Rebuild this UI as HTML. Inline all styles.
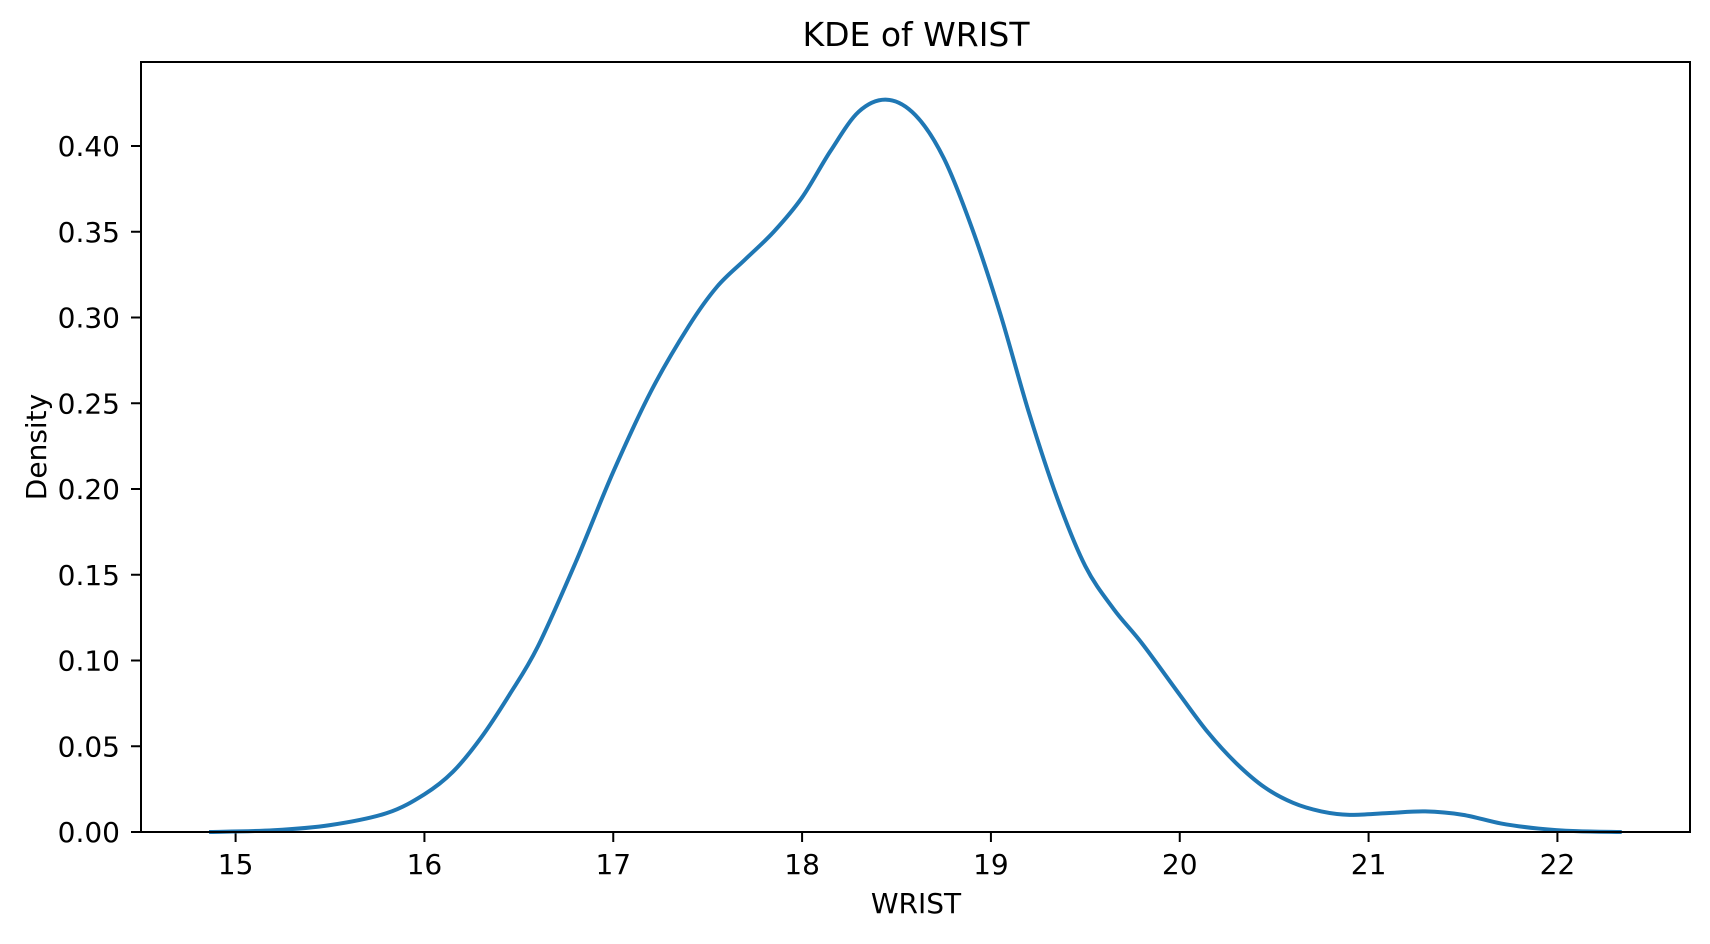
<!DOCTYPE html>
<html><head><meta charset="utf-8"><style>
body{margin:0;background:#fff;}
svg text{font-family:"DejaVu Sans","Liberation Sans",sans-serif;fill:#000;}
</style></head><body>
<svg id="chart" width="1710" height="939" xmlns="http://www.w3.org/2000/svg">
<rect width="1710" height="939" fill="#fff"/>
<text x="916" y="46" font-size="33" text-anchor="middle">KDE of WRIST</text>
<g id="axes"></g>
<path id="kde" fill="none" stroke="#1f77b4" stroke-width="4" stroke-linecap="square"/>
<rect x="141" y="62" width="1549" height="770" fill="none" stroke="#000" stroke-width="2"/>
<text x="916" y="913" font-size="28" text-anchor="middle">WRIST</text>
<text transform="translate(46,447) rotate(-90)" font-size="28" text-anchor="middle">Density</text>
</svg>
<script>
const xValues=[14.87,15.2,15.5,15.8,16.0,16.15,16.3,16.45,16.6,16.8,17.0,17.2,17.4,17.55,17.7,17.85,18.0,18.15,18.3,18.45,18.6,18.75,18.9,19.05,19.2,19.35,19.5,19.65,19.8,20.0,20.15,20.3,20.45,20.6,20.75,20.9,21.1,21.3,21.5,21.7,21.9,22.1,22.33];
const densityValues=[0.0,0.001,0.004,0.011,0.022,0.035,0.055,0.08,0.108,0.157,0.21,0.257,0.295,0.318,0.334,0.35,0.37,0.397,0.42,0.427,0.418,0.393,0.352,0.302,0.245,0.195,0.155,0.13,0.11,0.08,0.058,0.04,0.026,0.017,0.012,0.010,0.011,0.012,0.010,0.005,0.002,0.0005,0.0];
const xTicks=[15,16,17,18,19,20,21,22];
const yTicks=[0,0.05,0.10,0.15,0.20,0.25,0.30,0.35,0.40];
const yTickLabels=["0.00","0.05","0.10","0.15","0.20","0.25","0.30","0.35","0.40"];
const xs=v=>235.6+(v-15)*188.83;
const ys=v=>832-v*1715;
const NS="http://www.w3.org/2000/svg";
const ax=document.getElementById('axes');
function mk(t,a){const e=document.createElementNS(NS,t);for(const k in a)e.setAttribute(k,a[k]);return e;}
xTicks.forEach(t=>{
  const l=mk('line',{x1:xs(t),x2:xs(t),y1:832,y2:842,stroke:'#000','stroke-width':2});
  
  
  ax.appendChild(l);
  const tx=mk('text',{x:xs(t),y:874,'font-size':28,'text-anchor':'middle'});
  tx.textContent=t;
  
  
  ax.appendChild(tx);
});
yTicks.forEach((t,i)=>{
  const l=mk('line',{x1:131,x2:141,y1:ys(t),y2:ys(t),stroke:'#000','stroke-width':2});
  
  
  ax.appendChild(l);
  const tx=mk('text',{x:120,y:ys(t)+10,'font-size':28,'text-anchor':'end'});
  tx.textContent=yTickLabels[i];
  
  
  ax.appendChild(tx);
});
const P=xValues.map((x,i)=>[xs(x),ys(densityValues[i])]);
let d='M'+P[0][0]+','+P[0][1];
for(let i=0;i<P.length-1;i++){
  const p0=P[Math.max(0,i-1)],p1=P[i],p2=P[i+1],p3=P[Math.min(P.length-1,i+2)];
  const c1=[p1[0]+(p2[0]-p0[0])/6,p1[1]+(p2[1]-p0[1])/6];
  const c2=[p2[0]-(p3[0]-p1[0])/6,p2[1]-(p3[1]-p1[1])/6];
  d+=` C${c1[0]},${c1[1]} ${c2[0]},${c2[1]} ${p2[0]},${p2[1]}`;
}
document.getElementById('kde').setAttribute('d',d);
</script>
</body></html>
